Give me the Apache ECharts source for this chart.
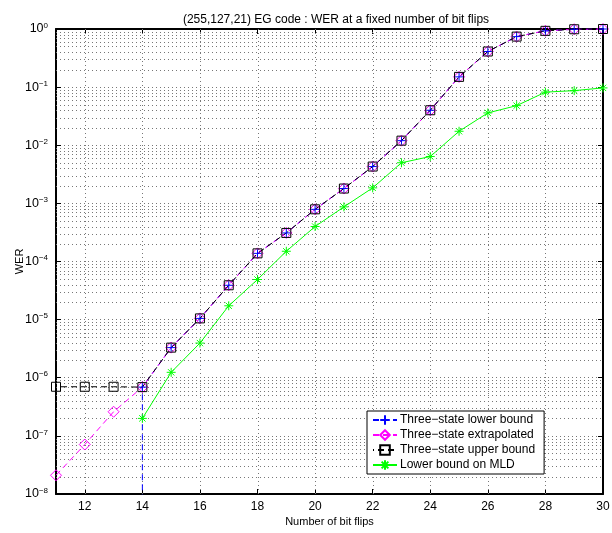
<!DOCTYPE html>
<html>
<head>
<meta charset="utf-8">
<script src="https://cdn.jsdelivr.net/npm/echarts@6/dist/echarts.min.js"></script>
<style>
  html, body { margin: 0; padding: 0; background: #fff; }
  #chart { width: 612px; height: 533px; }
</style>
</head>
<body>
<div id="chart"></div>
<script>
// x ticks / labels
const xTicks = [12, 14, 16, 18, 20, 22, 24, 26, 28, 30];

// Three-state lower bound (the point at 14 drops below the axis)
const lowerFlips = [14, 14, 15, 16, 17, 18, 19, 20, 21, 22, 23, 24, 25, 26, 27, 28, 29, 30];
const lowerWER = [1e-10, 6.9e-7, 3.3e-6, 1.05e-5, 3.9e-5, 1.38e-4, 3.1e-4, 7.9e-4, 1.8e-3, 4.3e-3, 1.2e-2, 0.04, 0.15, 0.41, 0.74, 0.93, 0.99, 1.0];

// Three-state extrapolated
const extrapFlips = [11, 12, 13, 14, 15, 16, 17, 18, 19, 20, 21, 22, 23, 24, 25, 26, 27, 28, 29, 30];
const extrapWER = [2.1e-8, 7.1e-8, 2.6e-7, 6.9e-7, 3.3e-6, 1.05e-5, 3.9e-5, 1.38e-4, 3.1e-4, 7.9e-4, 1.8e-3, 4.3e-3, 1.2e-2, 0.04, 0.15, 0.41, 0.74, 0.93, 0.99, 1.0];

// Three-state upper bound
const upperFlips = [11, 12, 13, 14, 15, 16, 17, 18, 19, 20, 21, 22, 23, 24, 25, 26, 27, 28, 29, 30];
const upperWER = [7.0e-7, 7.0e-7, 7.0e-7, 6.9e-7, 3.3e-6, 1.05e-5, 3.9e-5, 1.38e-4, 3.1e-4, 7.9e-4, 1.8e-3, 4.3e-3, 1.2e-2, 0.04, 0.15, 0.41, 0.74, 0.93, 0.99, 1.0];

// Lower bound on MLD
const mldFlips = [14, 15, 16, 17, 18, 19, 20, 21, 22, 23, 24, 25, 26, 27, 28, 29, 30];
const mldWER = [2.0e-7, 1.24e-6, 3.95e-6, 1.73e-5, 4.9e-5, 1.5e-4, 4.0e-4, 8.7e-4, 1.85e-3, 5.0e-3, 6.4e-3, 0.0174, 0.036, 0.048, 0.082, 0.087, 0.097];

const names = [
  'Three\u2212state lower bound',
  'Three\u2212state extrapolated',
  'Three\u2212state upper bound',
  'Lower bound on MLD',
];

const zip = (xs, ys) => xs.map((x, i) => [x, ys[i]]);

// minor log grid (2..9 x 10^k) and vertical grid at the even ticks
const minorGrid = [];
for (let k = -8; k < 0; k++) {
  for (let m = 2; m <= 9; m++) minorGrid.push(m * Math.pow(10, k));
}
const vGrid = xTicks.filter((v) => v < 30);

const gridColor = '#777';
const gridDash = [1, 3];

const plusPath = 'path://M0,-5L0,5M-5,0L5,0';
const starPath = 'path://M0,-5L0,5M-5,0L5,0M-3.5,-3.5L3.5,3.5M-3.5,3.5L3.5,-3.5';

const chart = echarts.init(document.getElementById('chart'));

const supLabel = (v) => {
  const e = Math.round(Math.log10(v));
  const s = e < 0 ? '\u2212' + (-e) : String(e);
  return '{b|10}{e|' + s + '}';
};

// dotted grid line drawn through the axes
const gridLine = (horizontal) => (params, api) => {
  let p1, p2;
  if (horizontal) {
    p1 = api.coord([11, api.value(1)]);
    p2 = api.coord([30, api.value(1)]);
    p1[1] = p2[1] = Math.round(p1[1]) + 0.5;
  } else {
    p1 = api.coord([api.value(0), 1e-8]);
    p2 = api.coord([api.value(0), 1]);
    p1[0] = p2[0] = Math.round(p1[0]) + 0.5;
  }
  return {
    type: 'line',
    shape: { x1: p1[0], y1: p1[1], x2: p2[0], y2: p2[1] },
    style: { stroke: gridColor, lineWidth: 1, lineDash: gridDash },
  };
};

const axisLineStyle = { color: '#000', width: 2 };

chart.setOption({
  animation: false,
  textStyle: { fontFamily: 'Liberation Sans, Arial, sans-serif', color: '#000' },
  title: {
    text: '(255,127,21) EG code : WER at a fixed number of bit flips',
    left: 331,
    textAlign: 'center',
    top: 9,
    textStyle: { fontSize: 12, fontWeight: 'normal', color: '#000' },
  },
  grid: { left: 56, right: 9, top: 29, bottom: 39, containLabel: false, outerBoundsMode: 'none' },
  legend: {
    orient: 'vertical',
    left: 367,
    top: 411,
    padding: [3, 9, 3, 5],
    itemGap: 3,
    itemWidth: 24,
    itemHeight: 12,
    backgroundColor: '#fff',
    borderColor: '#000',
    borderWidth: 1,
    borderRadius: 0,
    textStyle: { fontSize: 12, color: '#000', padding: [0, 0, 0, -2] },
    data: names,
  },
  xAxis: [
    {
      type: 'value',
      min: 11,
      max: 30,
      name: 'Number of bit flips',
      nameLocation: 'middle',
      nameGap: 22,
      nameMoveOverlap: false,
      nameTextStyle: { fontSize: 11, color: '#000' },
      axisLine: { lineStyle: axisLineStyle },
      axisTick: { inside: true, length: 5, lineStyle: { color: '#000' }, customValues: xTicks },
      axisLabel: { fontSize: 12, color: '#000', margin: 7, customValues: xTicks },
      splitLine: { show: false },
    },
    {
      type: 'value',
      position: 'top',
      min: 11,
      max: 30,
      axisLine: { lineStyle: axisLineStyle },
      axisTick: { inside: true, length: 5, lineStyle: { color: '#000' }, customValues: xTicks },
      axisLabel: { show: false },
      splitLine: { show: false },
    },
  ],
  yAxis: [
    {
      type: 'log',
      logBase: 10,
      min: 1e-8,
      max: 1,
      interval: 1,
      name: 'WER',
      nameLocation: 'middle',
      nameGap: 31,
      nameMoveOverlap: false,
      nameRotate: 90,
      nameTextStyle: { fontSize: 11, color: '#000' },
      axisLine: { lineStyle: axisLineStyle },
      axisTick: { inside: true, length: 5, lineStyle: { color: '#000' } },
      axisLabel: {
        margin: 8,
        formatter: supLabel,
        rich: {
          b: { fontSize: 12.5, color: '#000', fontFamily: 'Liberation Sans' },
          e: { fontSize: 8, color: '#000', verticalAlign: 'top', padding: [0, 0, 7, 0], fontFamily: 'Liberation Sans' },
        },
      },
      splitLine: { show: true, lineStyle: { color: gridColor, width: 1, type: gridDash } },
    },
    {
      type: 'log',
      logBase: 10,
      min: 1e-8,
      max: 1,
      interval: 1,
      position: 'right',
      axisLine: { lineStyle: axisLineStyle },
      axisTick: { inside: true, length: 5, lineStyle: { color: '#000' } },
      axisLabel: { show: false },
      splitLine: { show: false },
    },
  ],
  series: [
    {
      type: 'custom',
      silent: true,
      z: 1,
      renderItem: gridLine(true),
      data: minorGrid.map((v) => [11, v]),
    },
    {
      type: 'custom',
      silent: true,
      z: 1,
      renderItem: gridLine(false),
      data: vGrid.map((v) => [v, 1e-8]),
    },
    {
      name: names[0],
      type: 'line',
      data: zip(lowerFlips, lowerWER),
      clip: true,
      symbol: plusPath,
      symbolSize: 8,
      itemStyle: { color: '#0000ff', borderColor: '#0000ff', borderWidth: 1 },
      lineStyle: { color: '#0000ff', width: 1, type: [6, 4] },
    },
    {
      name: names[1],
      type: 'line',
      data: zip(extrapFlips, extrapWER),
      clip: true,
      symbol: 'diamond',
      symbolSize: 11,
      itemStyle: { color: 'rgba(255,255,255,0)', borderColor: '#ff00ff', borderWidth: 1 },
      lineStyle: { color: '#ff00ff', width: 1, type: [6, 4] },
    },
    {
      name: names[2],
      type: 'line',
      data: zip(upperFlips, upperWER),
      clip: true,
      symbol: 'rect',
      symbolSize: 9,
      itemStyle: { color: 'rgba(255,255,255,0)', borderColor: '#000', borderWidth: 1 },
      lineStyle: { color: '#000', width: 1, type: [6, 4], dashOffset: 5 },
    },
    {
      name: names[3],
      type: 'line',
      data: zip(mldFlips, mldWER),
      clip: true,
      symbol: starPath,
      symbolSize: 9,
      itemStyle: { color: '#00ff00', borderColor: '#00ff00', borderWidth: 1 },
      lineStyle: { color: '#00ff00', width: 1, type: 'solid' },
    },
  ],
});
</script>
</body>
</html>
